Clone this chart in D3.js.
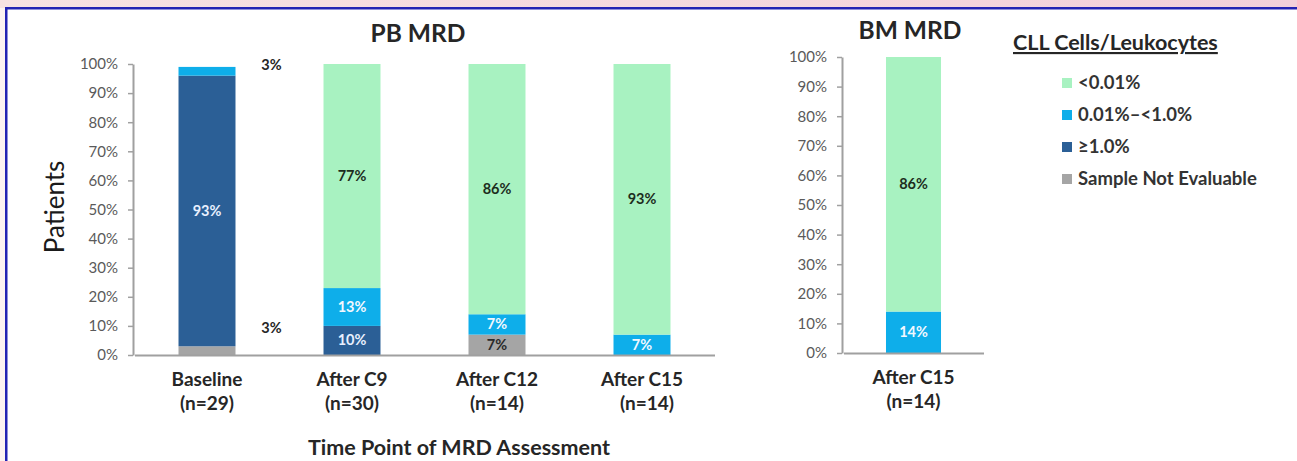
<!DOCTYPE html>
<html>
<head>
<meta charset="utf-8">
<script src="https://cdn.jsdelivr.net/npm/d3@7"></script>
<style>
  html, body { margin: 0; padding: 0; background: #fff; }
  svg { display: block; font-family: Lato, "Open Sans", sans-serif; }
</style>
</head>
<body>
<svg id="chart" width="1297" height="461"></svg>
<script>
// ---------------- data ----------------
const pbCategories = ["Baseline", "After C9", "After C12", "After C15"];
const pbCounts     = ["(n=29)", "(n=30)", "(n=14)", "(n=14)"];
const pbNotEval    = [3, 0, 7, 0];
const pbHigh       = [93, 10, 0, 0];
const pbMid        = [3, 13, 7, 7];
const pbLow        = [0, 77, 86, 93];

const bmCategories = ["After C15"];
const bmCounts     = ["(n=14)"];
const bmNotEval    = [0];
const bmHigh       = [0];
const bmMid        = [14];
const bmLow        = [86];

const seriesKeys   = ["notEval", "high", "mid", "low"];
const legendLabels = ["<0.01%", "0.01%\u2013<1.0%", "\u22651.0%", "Sample Not Evaluable"];
const legendKeys   = ["low", "mid", "high", "notEval"];
const yTicks       = [0, 10, 20, 30, 40, 50, 60, 70, 80, 90, 100];

// ---------------- styles ----------------
const colors = { low: "#a8f2c1", mid: "#0eaeea", high: "#2b5f96", notEval: "#a5a5a5" };
const labelColors = { low: "#1d2d1d", mid: "#f2f8ff", high: "#e8f0ff", notEval: "#2a2a2a" };
const axisColor = "#a0a0a0";
const tickText = "#5a5a5a";
const darkText = "#262626";

const svg = d3.select("#chart");

// ---------------- frame ----------------
const defs = svg.append("defs");
const grad = defs.append("linearGradient").attr("id", "band").attr("x1", 0).attr("x2", 1);
grad.append("stop").attr("offset", 0).attr("stop-color", "#f7e2e2");
grad.append("stop").attr("offset", 1).attr("stop-color", "#f3d0da");
svg.append("rect").attr("x", 0).attr("y", 0).attr("width", 1297).attr("height", 8).attr("fill", "url(#band)");
svg.append("rect").attr("x", 0).attr("y", 8).attr("width", 5).attr("height", 453).attr("fill", "#fcf3f1");
svg.append("rect").attr("x", 5).attr("y", 7).attr("width", 1292).attr("height", 2.5).attr("fill", "#2323b3");
svg.append("rect").attr("x", 5).attr("y", 7).attr("width", 2.5).attr("height", 454).attr("fill", "#2323b3");

function buildRows(cats, counts, notEval, high, mid, low) {
  return cats.map((c, i) => ({ cat: c, n: counts[i], notEval: notEval[i], high: high[i], mid: mid[i], low: low[i] }));
}

function drawPanel(opts) {
  const { rows, xRange, yRange, title, titleX, titleY } = opts;
  const g = svg.append("g");
  const x = d3.scaleBand().domain(rows.map(d => d.cat)).range(xRange)
    .paddingInner(0.607).paddingOuter(0.3035);
  const y = d3.scaleLinear().domain([0, 100]).range(yRange);
  const stacked = d3.stack().keys(seriesKeys)(rows);

  // bars
  stacked.forEach(layer => {
    g.append("g").selectAll("rect").data(layer).join("rect")
      .attr("x", d => x(d.data.cat))
      .attr("width", x.bandwidth())
      .attr("y", d => y(d[1]))
      .attr("height", d => y(d[0]) - y(d[1]))
      .attr("fill", colors[layer.key]);
  });

  // y axis
  const yAxis = d3.axisLeft(y).tickValues(yTicks).tickFormat(d => d + "%")
    .tickSize(5).tickSizeOuter(0).tickPadding(10);
  const ya = g.append("g").attr("transform", `translate(${xRange[0] - 1.5},0)`).call(yAxis);
  ya.select(".domain").attr("stroke", axisColor).attr("stroke-width", 2);
  ya.selectAll(".tick line").attr("stroke", axisColor).attr("stroke-width", 1.5);
  ya.selectAll(".tick text").attr("fill", tickText).style("font-size", "15px")
    .style("font-family", "Lato, sans-serif");

  // x axis (line only)
  const xAxis = d3.axisBottom(x).tickSize(0).tickFormat("");
  const xa = g.append("g").attr("transform", `translate(0,${yRange[0]})`).call(xAxis);
  xa.select(".domain").attr("stroke", axisColor).attr("stroke-width", 2);

  // category labels
  const cl = g.append("g").selectAll("text").data(rows).join("text")
    .attr("x", d => x(d.cat) + x.bandwidth() / 2)
    .attr("text-anchor", "middle")
    .attr("fill", darkText)
    .style("font-size", "19px").style("font-weight", "bold");
  cl.append("tspan").attr("x", d => x(d.cat) + x.bandwidth() / 2).attr("y", yRange[0] + 31).text(d => d.cat);
  cl.append("tspan").attr("x", d => x(d.cat) + x.bandwidth() / 2 + (d.cat === "After C15" && opts.shiftLast ? 5 : 0))
    .attr("y", yRange[0] + 55).text(d => d.n);

  // value labels
  stacked.forEach(layer => {
    layer.forEach(d => {
      const v = d[1] - d[0];
      if (v <= 0) return;
      const inside = v >= 5;
      let lx, ly, col;
      if (inside) {
        lx = x(d.data.cat) + x.bandwidth() / 2;
        ly = y((d[0] + d[1]) / 2) + 5;
        col = labelColors[layer.key];
      } else {
        lx = x(d.data.cat) + x.bandwidth() + 36;
        ly = layer.key === "mid" ? y(d[1]) + 3 : y(0) - 22;
        col = darkText;
      }
      g.append("text").attr("x", lx).attr("y", ly).attr("text-anchor", "middle")
        .attr("fill", col).style("font-size", "14.5px").style("font-weight", "bold")
        .text(v + "%");
    });
  });

  // title
  g.append("text").attr("x", titleX).attr("y", titleY).attr("text-anchor", "middle")
    .attr("fill", darkText).style("font-size", "24.5px").style("font-weight", "bold").text(title);
  return g;
}

drawPanel({
  rows: buildRows(pbCategories, pbCounts, pbNotEval, pbHigh, pbMid, pbLow),
  xRange: [134.5, 714.5], yRange: [355, 64],
  title: "PB MRD", titleX: 418, titleY: 42, shiftLast: true
});

drawPanel({
  rows: buildRows(bmCategories, bmCounts, bmNotEval, bmHigh, bmMid, bmLow),
  xRange: [843.5, 983.5], yRange: [353, 57],
  title: "BM MRD", titleX: 910, titleY: 39, shiftLast: false
});

// y-axis title
svg.append("text").attr("transform", "translate(64,207) rotate(-90)")
  .attr("text-anchor", "middle").attr("fill", "#1a1a1a")
  .style("font-size", "26px").text("Patients");

// x-axis title
svg.append("text").attr("x", 459).attr("y", 455).attr("text-anchor", "middle")
  .attr("fill", darkText).style("font-size", "21.5px").style("font-weight", "bold")
  .text("Time Point of MRD Assessment");

// legend
const lg = svg.append("g");
lg.append("text").attr("x", 1013).attr("y", 50).attr("fill", darkText)
  .style("font-size", "21.5px").style("font-weight", "bold")
  .style("text-decoration", "underline").text("CLL Cells/Leukocytes");
const items = lg.selectAll("g.item").data(legendKeys).join("g").attr("class", "item")
  .attr("transform", (d, i) => `translate(1062,${83 + i * 32})`);
items.append("rect").attr("x", 0).attr("y", -5).attr("width", 10).attr("height", 10)
  .attr("fill", d => colors[d]);
items.append("text").attr("x", 16).attr("y", 6).attr("fill", "#333")
  .style("font-size", "18.5px").style("font-weight", "bold")
  .text((d, i) => legendLabels[i]);
</script>
</body>
</html>
